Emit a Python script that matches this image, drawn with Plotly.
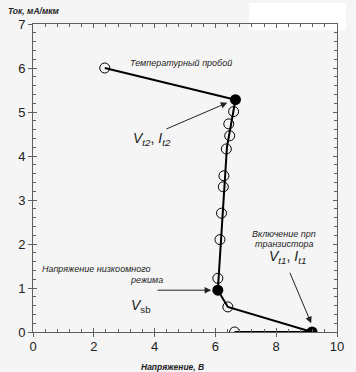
import plotly.graph_objects as go

# Curve (line path)
line_x = [2.36, 6.66, 6.38, 6.24, 6.08, 6.41, 9.18, 6.63]
line_y = [6.00, 5.28, 4.20, 2.70, 0.95, 0.57, 0.00, 0.00]

# Open circles (measured points)
open_x = [2.36, 6.60, 6.44, 6.47, 6.36, 6.28, 6.26, 6.20, 6.15, 6.08, 6.41, 6.63]
open_y = [6.00, 5.01, 4.73, 4.46, 4.16, 3.55, 3.30, 2.70, 2.10, 1.22, 0.57, 0.00]

# Filled circles (key points: Vt2/It2, Vsb, Vt1/It1)
key_x = [6.66, 6.08, 9.18]
key_y = [5.28, 0.95, 0.00]

x_ticks = [0, 2, 4, 6, 8, 10]
y_ticks = [0, 1, 2, 3, 4, 5, 6, 7]

BG = "#f5f5f5"
AX = "#606060"
FONT = "Liberation Sans, Arial, sans-serif"

fig = go.Figure()
fig.add_trace(go.Scatter(x=line_x, y=line_y, mode="lines",
                         line=dict(color="black", width=2), hoverinfo="skip"))
fig.add_trace(go.Scatter(x=open_x, y=open_y, mode="markers",
                         marker=dict(symbol="circle-open", size=10, color="black",
                                     line=dict(width=1, color="black"))))
fig.add_trace(go.Scatter(x=key_x, y=key_y, mode="markers",
                         marker=dict(symbol="circle", size=11, color="black")))
# invisible trace for the overlay axes
fig.add_trace(go.Scatter(x=[0], y=[0], xaxis="x2", yaxis="y2", mode="markers",
                         marker=dict(opacity=0), hoverinfo="skip"))

common = dict(showgrid=False, zeroline=False, showline=True, linecolor=AX, linewidth=1)

fig.update_layout(
    width=356, height=372,
    margin=dict(l=33, r=15, t=24, b=40),
    paper_bgcolor=BG, plot_bgcolor=BG,
    showlegend=False,
    font=dict(family=FONT, color="#222"),
    xaxis=dict(range=[0, 10], tickvals=x_ticks, ticks="outside", ticklen=4,
               tickcolor=AX, mirror=True, tickfont=dict(size=13, color="#222"),
               ticklabelstandoff=-2, **common),
    yaxis=dict(range=[0, 7], tickvals=y_ticks, ticks="outside", ticklen=4,
               tickcolor=AX, mirror=True, tickfont=dict(size=13, color="#222"),
               **common),
    xaxis2=dict(range=[0, 10], overlaying="x", anchor="y2", side="bottom",
                tickvals=x_ticks, ticks="inside", ticklen=4, tickcolor=AX,
                mirror="allticks", showticklabels=False,
                minor=dict(ticks="inside", ticklen=3, dtick=0.4, tick0=0, tickcolor=AX),
                **common),
    yaxis2=dict(range=[0, 7], overlaying="y", anchor="x2", side="left",
                tickvals=y_ticks, ticks="inside", ticklen=4, tickcolor=AX,
                mirror="allticks", showticklabels=False,
                minor=dict(ticks="inside", ticklen=3, dtick=0.2, tick0=0, tickcolor=AX),
                **common),
)

# scanning artifact: white patch at top right
fig.add_shape(type="rect", xref="paper", yref="paper", layer="below",
              x0=(252 - 33) / 308, x1=(350 - 33) / 308,
              y0=(332 - 30) / 308, y1=(332 - 3) / 308,
              fillcolor="white", line=dict(width=0))

lab = dict(family=FONT, size=9, color="#222")
big = dict(family=FONT, size=14, color="#222")

ann = [
    dict(x=4.88, y=6.12, text="<i>Температурный пробой</i>", font=lab),
    dict(x=2.08, y=1.43, text="<i>Напряжение низкоомного</i>", font=lab),
    dict(x=3.72, y=1.18, text="<i>режима</i>", font=lab),
    dict(x=8.27, y=2.23, text="<i>Включение npn</i>", font=lab),
    dict(x=8.27, y=2.00, text="<i>транзистора</i>", font=lab),
    dict(x=3.93, y=4.38, text="<i>V</i><sub><i>t2</i></sub>, <i>I</i><sub><i>t2</i></sub>", font=big),
    dict(x=8.37, y=1.70, text="<i>V</i><sub><i>t1</i></sub>, <i>I</i><sub><i>t1</i></sub>", font=big),
    dict(x=3.55, y=0.60, text="<i>V</i><sub>sb</sub>", font=big),
]
for a in ann:
    fig.add_annotation(xref="x", yref="y", showarrow=False, **a)

arrows = [
    (4.34, 4.60, 6.39, 5.21),
    (4.05, 0.95, 5.86, 0.95),
    (8.43, 1.38, 9.15, 0.20),
]
for ax0, ay0, x1, y1 in arrows:
    fig.add_annotation(x=x1, y=y1, ax=ax0, ay=ay0, xref="x", yref="y",
                       axref="x", ayref="y", text="", showarrow=True,
                       arrowhead=2, arrowsize=1.3, arrowwidth=1, arrowcolor="#222")

# axis titles
fig.add_annotation(xref="paper", yref="paper", x=-27 / 308, y=(332 - 11) / 308,
                   xanchor="left", yanchor="middle", showarrow=False,
                   text="<b><i>Ток, мА/мкм</i></b>", font=dict(family=FONT, size=8.5, color="#222"))
fig.add_annotation(xref="paper", yref="paper", x=(174 - 33) / 308, y=(332 - 367) / 308,
                   xanchor="center", yanchor="middle", showarrow=False,
                   text="<b><i>Напряжение, В</i></b>", font=dict(family=FONT, size=8.5, color="#222"))

fig.write_html("out.html", config={"displayModeBar": False},
               post_script="document.body.style.margin='0';")
